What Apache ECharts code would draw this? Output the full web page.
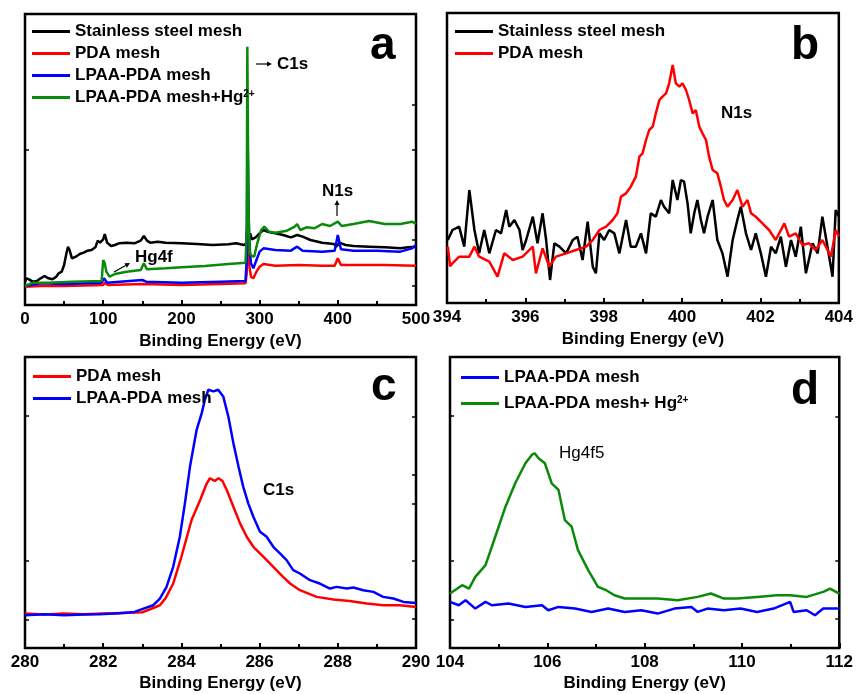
<!DOCTYPE html>
<html>
<head>
<meta charset="utf-8">
<script src="https://cdn.jsdelivr.net/npm/echarts@6/dist/echarts.min.js"></script>
<style>
  html, body { margin: 0; padding: 0; background: #fff; }
  #main { width: 856px; height: 694px; }
</style>
</head>
<body>
<div id="main"></div>
<script>
// panel a: survey spectra, [binding energy, intensity a.u.]
const aSteel = [[0,70],[2,80],[5,77],[10,70],[15,72],[20,80],[25,87],[30,80],[35,77],[40,85],[43,95],[47,100],[50,120],[53,155],[55,175],[57,165],[60,140],[65,145],[70,153],[75,157],[80,163],[85,165],[90,173],[93,193],[96,187],[100,197],[102,213],[105,187],[110,177],[115,180],[120,185],[130,187],[140,185],[148,193],[152,207],[156,193],[160,187],[170,190],[180,187],[200,185],[220,183],[240,180],[260,182],[270,185],[280,180],[283,185],[284,230],[285.5,205],[286.5,195],[288,215],[290,197],[295,203],[300,215],[305,225],[310,220],[320,215],[330,210],[340,203],[348,210],[355,205],[365,195],[380,187],[395,183],[398,175],[402,187],[410,180],[420,177],[440,175],[460,173],[480,170],[490,173],[500,175]];
const aPDA = [[0,55],[20,57],[50,57],[100,60],[102,67],[106,60],[150,63],[200,60],[250,63],[282,65],[283.5,95],[284.5,240],[285.5,180],[287,115],[289,85],[292,80],[296,100],[300,115],[305,123],[320,118],[350,120],[380,118],[396,118],[400,140],[404,120],[430,120],[460,120],[500,118]];
const aLPAA = [[0,57],[20,65],[50,63],[98,67],[101,80],[105,67],[150,75],[155,70],[200,67],[250,70],[282,72],[283.5,135],[284.6,515],[285.5,355],[286.5,215],[288,150],[289,125],[292,110],[296,135],[300,160],[305,170],[320,165],[340,163],[348,175],[355,163],[380,160],[396,163],[400,210],[404,167],[420,163],[450,163],[480,160],[495,170],[500,180]];
const aLPAAHg = [[0,57],[10,67],[30,67],[60,70],[98,72],[100,135],[102,125],[104,100],[108,85],[115,93],[130,100],[148,105],[152,125],[156,107],[180,110],[200,113],[230,117],[260,123],[282,127],[283.5,215],[284.3,775],[285,535],[286,265],[287.5,155],[290,147],[293,145],[297,185],[302,225],[306,235],[312,220],[320,217],[335,223],[345,235],[348,243],[352,225],[360,233],[370,230],[380,243],[390,237],[400,250],[405,237],[420,243],[440,252],[460,243],[480,243],[495,250],[500,243]];

// panel b: N1s
const bSteel = [[394.02,189],[394.14,219],[394.31,229],[394.44,169],[394.57,339],[394.70,219],[394.82,149],[394.95,219],[395.08,149],[395.25,219],[395.38,209],[395.51,279],[395.59,229],[395.72,249],[395.85,219],[395.93,159],[396.02,189],[396.19,259],[396.31,179],[396.44,269],[396.53,189],[396.63,69],[396.74,179],[396.87,169],[397.04,149],[397.21,189],[397.33,199],[397.46,129],[397.59,244],[397.72,109],[397.80,89],[397.89,209],[398.01,189],[398.14,219],[398.27,209],[398.40,149],[398.57,249],[398.69,169],[398.82,169],[398.95,209],[399.08,149],[399.20,269],[399.33,259],[399.46,309],[399.54,289],[399.67,269],[399.76,369],[399.88,309],[399.97,369],[400.05,364],[400.14,299],[400.22,209],[400.31,269],[400.39,309],[400.48,249],[400.56,209],[400.65,259],[400.78,309],[400.90,189],[401.03,149],[401.16,79],[401.29,189],[401.41,249],[401.50,289],[401.63,209],[401.76,159],[401.88,209],[402.01,149],[402.14,79],[402.27,169],[402.39,149],[402.52,199],[402.65,109],[402.78,189],[402.90,139],[403.03,229],[403.16,89],[403.33,179],[403.46,149],[403.58,259],[403.71,169],[403.84,79],[403.92,279],[404.0,260]];
const bPDA = [[394.02,169],[394.08,110],[394.14,119],[394.31,139],[394.57,139],[394.70,169],[394.82,139],[395.08,124],[395.29,79],[395.46,149],[395.68,129],[395.93,139],[396.19,169],[396.27,89],[396.44,164],[396.61,109],[396.78,139],[397.04,149],[397.29,159],[397.55,169],[397.72,189],[397.89,219],[398.06,229],[398.23,249],[398.35,269],[398.44,319],[398.57,329],[398.69,349],[398.82,379],[398.91,439],[398.99,449],[399.08,489],[399.16,519],[399.25,529],[399.33,569],[399.42,609],[399.50,619],[399.59,629],[399.67,659],[399.76,714],[399.84,659],[399.93,649],[400.01,659],[400.10,639],[400.18,609],[400.27,569],[400.35,579],[400.44,529],[400.52,509],[400.61,489],[400.69,439],[400.78,399],[400.90,389],[400.99,349],[401.07,309],[401.16,289],[401.29,309],[401.41,339],[401.54,289],[401.67,309],[401.76,269],[401.88,259],[402.05,239],[402.22,219],[402.39,189],[402.61,239],[402.73,199],[402.90,209],[403.07,174],[403.24,179],[403.41,159],[403.58,189],[403.80,139],[403.92,219],[404.0,200]];

// panel c: C1s
const cPDA = [[280,103],[280.5,100],[281,103],[281.5,101],[282,103],[282.5,105],[283,107],[283.2,116],[283.45,128],[283.6,150],[283.79,193],[284.0,273],[284.26,383],[284.48,443],[284.65,493],[284.73,508],[284.85,500],[284.95,508],[285.05,500],[285.16,473],[285.33,423],[285.5,373],[285.67,333],[285.84,303],[286.1,273],[286.35,243],[286.6,213],[286.78,193],[287.03,173],[287.46,153],[287.89,145],[288.3,141],[288.74,133],[289.16,128],[289.59,128],[290,123]];
const cLPAA = [[280,98],[280.5,101],[281,98],[281.5,100],[281.9,101],[282.4,104],[282.8,108],[283.03,118],[283.28,128],[283.45,148],[283.62,183],[283.79,243],[283.96,333],[284.09,433],[284.22,543],[284.39,653],[284.52,703],[284.6,743],[284.69,773],[284.82,768],[284.94,773],[285.07,753],[285.2,693],[285.33,613],[285.46,543],[285.58,483],[285.71,433],[285.84,393],[286.01,348],[286.18,333],[286.35,303],[286.52,283],[286.69,263],[286.86,233],[287.03,223],[287.29,203],[287.54,193],[287.8,178],[287.97,183],[288.23,178],[288.4,181],[288.65,173],[288.91,168],[289.16,153],[289.42,148],[289.68,138],[290,135]];

// panel d: Hg4f
const dLPAA = [[104.0,138],[104.18,128],[104.32,143],[104.52,118],[104.73,138],[104.86,128],[105.2,133],[105.55,123],[105.89,128],[106.02,113],[106.23,123],[106.57,118],[106.91,108],[107.25,118],[107.59,108],[107.93,113],[108.27,103],[108.61,118],[108.96,123],[109.09,108],[109.29,118],[109.63,113],[109.97,118],[110.31,108],[110.65,118],[110.99,138],[111.06,108],[111.33,113],[111.5,98],[111.67,118],[112.0,118]];
const dLPAAHg = [[104.0,163],[104.25,188],[104.39,178],[104.52,213],[104.73,248],[104.93,333],[105.14,423],[105.34,493],[105.55,553],[105.68,578],[105.74,583],[105.82,568],[105.95,553],[106.09,493],[106.23,473],[106.36,383],[106.5,363],[106.63,293],[106.84,233],[107.04,183],[107.21,173],[107.38,158],[107.59,148],[107.86,148],[108.27,148],[108.68,143],[109.09,153],[109.36,163],[109.63,148],[109.9,148],[110.31,153],[110.72,158],[110.99,158],[111.33,153],[111.67,168],[111.81,178],[112.0,163]];

// y tick positions (no labels in the original)
const aTicksLeft = [57, 465];
const aTicksRight = [57, 195, 465, 600];
const cTicksLeft = [86, 260, 695];
const cTicksRight = [89, 260, 431, 518, 692];
const dTicksLeft = [86, 260, 695];
const dTicksRight = [89, 260, 692];

const FONT = 'Liberation Sans';
const BLACK = '#000000', RED = '#ff0000', BLUE = '#0000ff', GREEN = '#0a8a0a';

const grids = [
  { left: 25, top: 14, width: 391, height: 291 },
  { left: 447, top: 13, width: 392, height: 290 },
  { left: 25, top: 357, width: 391, height: 291 },
  { left: 450, top: 357, width: 392, height: 291 }
].map(g => Object.assign(g, { show: true, borderColor: '#000', borderWidth: 2.5, backgroundColor: 'transparent' }));

function xAx(grid, min, max, interval, nameGap) {
  return {
    type: 'value', gridIndex: grid, min: min, max: max, interval: interval,
    name: 'Binding Energy (eV)', nameLocation: 'middle', nameGap: nameGap,
    nameTextStyle: { fontFamily: FONT, fontWeight: 'bold', fontSize: 17, color: '#000' },
    axisLine: { show: false },
    axisTick: { show: true, inside: true, length: 5, lineStyle: { color: '#000', width: 2 } },
    minorTick: { show: true, splitNumber: 2, length: 4, lineStyle: { color: '#000', width: 2 } },
    axisLabel: { fontFamily: FONT, fontWeight: 'bold', fontSize: 17, color: '#000', margin: 6 },
    splitLine: { show: false }
  };
}
function yAx(grid, pos, max, ticks) {
  return {
    type: 'value', gridIndex: grid, position: pos, min: 0, max: max,
    axisLine: { show: false },
    axisTick: { show: ticks.length > 0, inside: true, length: 4, customValues: ticks, lineStyle: { color: '#000', width: 1.5 } },
    axisLabel: { show: false },
    splitLine: { show: false }
  };
}

function line(name, data, color, xi, yi) {
  return {
    name: name, type: 'line', data: data, xAxisIndex: xi, yAxisIndex: yi,
    showSymbol: false, symbol: 'none', color: color,
    lineStyle: { color: color, width: 2.5 }, animation: false
  };
}

function legend(left, top, names, gap) {
  return {
    orient: 'vertical', left: left, top: top, data: names,
    icon: 'rect', itemWidth: 38, itemHeight: 3, itemGap: gap || 5, padding: 0,
    textStyle: {
      fontFamily: FONT, fontWeight: 'bold', fontSize: 17, color: '#000',
      rich: {
        t: { fontFamily: FONT, fontWeight: 'bold', fontSize: 17, color: '#000', lineHeight: 17 },
        s: { fontFamily: FONT, fontWeight: 'bold', fontSize: 10, color: '#000', verticalAlign: 'top', lineHeight: 17, padding: [0, 0, 8, 0] }
      }
    },
    formatter: function (n) {
      if (n.endsWith('2+')) return '{t|' + n.slice(0, -2) + '}{s|2+}';
      return n;
    }
  };
}

function txt(x, y, s, size, weight) {
  return {
    type: 'text', z: 100,
    style: { x: x, y: y, text: s, font: (weight || 'bold') + ' ' + size + 'px "' + FONT + '"', fill: '#000', textVerticalAlign: 'middle' }
  };
}
function arrow(x1, y1, x2, y2) {
  const a = Math.atan2(y2 - y1, x2 - x1), L = 5, W = 2.5;
  const bx = x2 - L * Math.cos(a), by = y2 - L * Math.sin(a);
  return [
    { type: 'line', z: 100, shape: { x1: x1, y1: y1, x2: bx, y2: by }, style: { stroke: '#000', lineWidth: 1.2 } },
    { type: 'polygon', z: 100, shape: { points: [[x2, y2], [bx - W * Math.sin(a), by + W * Math.cos(a)], [bx + W * Math.sin(a), by - W * Math.cos(a)]] }, style: { fill: '#000' } }
  ];
}

const chart = echarts.init(document.getElementById('main'), null, { renderer: 'canvas' });
chart.setOption({
  animation: false,
  backgroundColor: '#fff',
  grid: grids,
  xAxis: [xAx(0, 0, 500, 100, 28), xAx(1, 394, 404, 2, 28), xAx(2, 280, 290, 2, 27), xAx(3, 104, 112, 2, 27)],
  yAxis: [
    yAx(0, 'left', 873, aTicksLeft), yAx(0, 'right', 873, aTicksRight),
    yAx(1, 'left', 870, []), yAx(1, 'right', 870, []),
    yAx(2, 'left', 871, cTicksLeft), yAx(2, 'right', 871, cTicksRight),
    yAx(3, 'left', 871, dTicksLeft), yAx(3, 'right', 871, dTicksRight)
  ],
  legend: [
    legend(32, 23, ['Stainless steel mesh', 'PDA mesh', 'LPAA-PDA mesh', 'LPAA-PDA mesh+Hg2+']),
    legend(455, 23, ['Stainless steel mesh', 'PDA mesh']),
    legend(33, 368, ['PDA mesh', 'LPAA-PDA mesh']),
    legend(461, 369, ['LPAA-PDA mesh', 'LPAA-PDA mesh+ Hg2+'], 9)
  ],
  series: [
    line('Stainless steel mesh', aSteel, BLACK, 0, 0),
    line('PDA mesh', aPDA, RED, 0, 0),
    line('LPAA-PDA mesh', aLPAA, BLUE, 0, 0),
    line('LPAA-PDA mesh+Hg2+', aLPAAHg, GREEN, 0, 0),
    line('Stainless steel mesh', bSteel, BLACK, 1, 2),
    line('PDA mesh', bPDA, RED, 1, 2),
    line('PDA mesh', cPDA, RED, 2, 4),
    line('LPAA-PDA mesh', cLPAA, BLUE, 2, 4),
    line('LPAA-PDA mesh', dLPAA, BLUE, 3, 6),
    line('LPAA-PDA mesh+ Hg2+', dLPAAHg, GREEN, 3, 6)
  ],
  graphic: [
    txt(370, 46, 'a', 46), txt(791, 46, 'b', 46), txt(371, 387, 'c', 46), txt(791, 391, 'd', 46),
    txt(277, 64, 'C1s', 17), txt(322, 191, 'N1s', 17), txt(135, 257, 'Hg4f', 17),
    txt(721, 113, 'N1s', 17), txt(263, 490, 'C1s', 17), txt(559, 453, 'Hg4f5', 17, 'normal')
  ].concat(arrow(256, 64, 272, 64), arrow(337, 216, 337, 200), arrow(114, 272, 130, 263))
});
</script>
</body>
</html>
